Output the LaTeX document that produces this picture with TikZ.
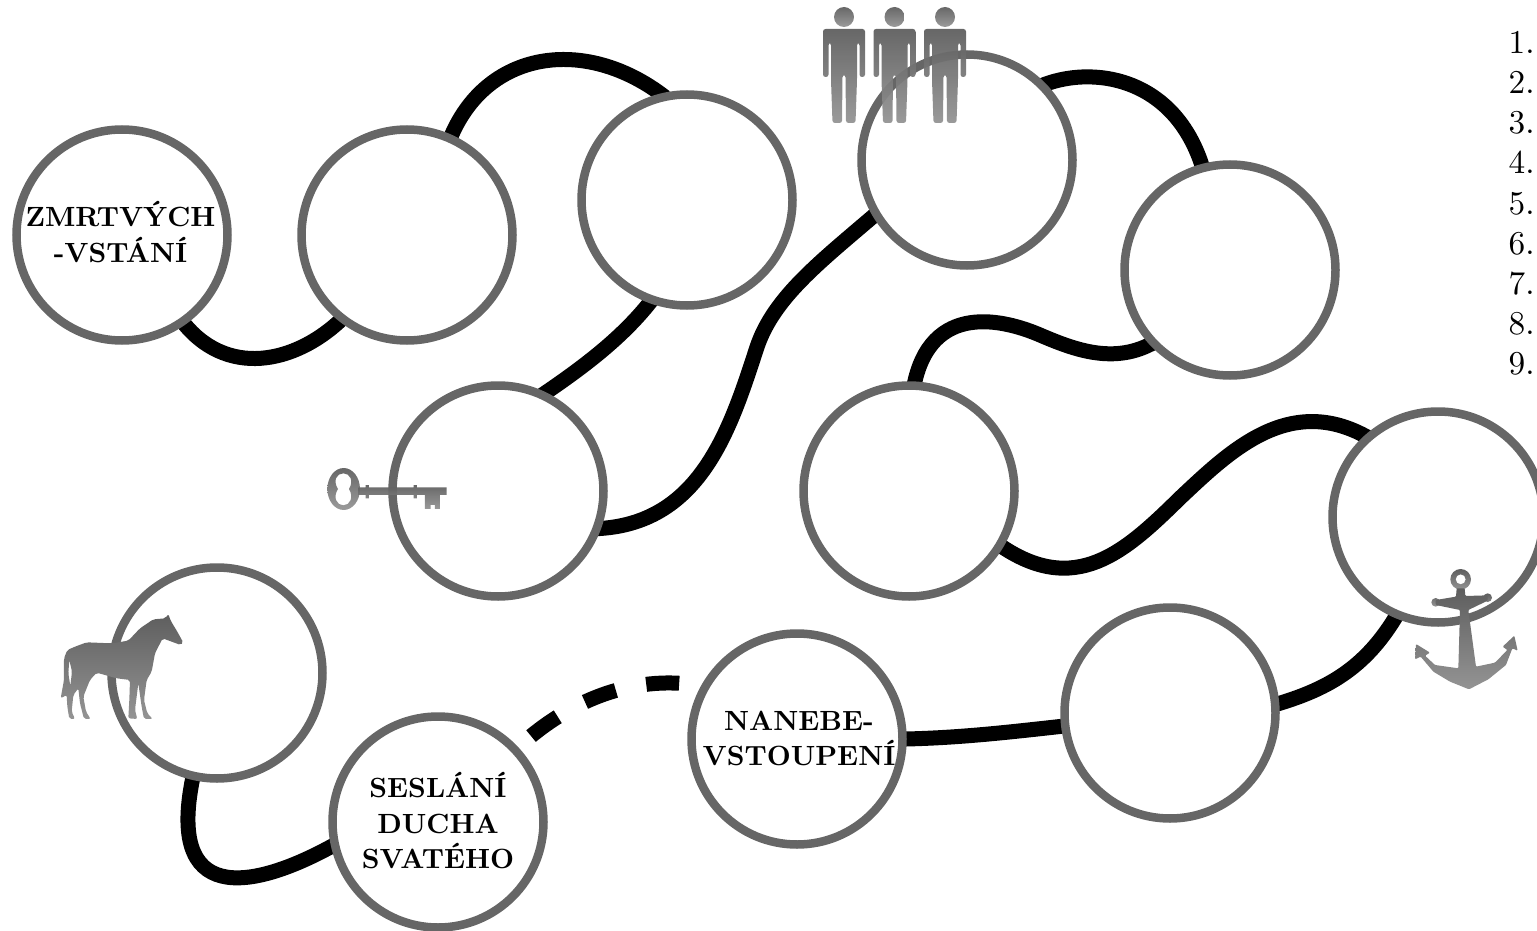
\documentclass[tikz,border=0pt]{standalone}
\usepackage{graphicx}
\pgfdeclarelayer{roads}
\pgfsetlayers{roads,main}
\definecolor{ringgray}{HTML}{666666}
\definecolor{icontop}{HTML}{5E5E5E}
\definecolor{iconbot}{HTML}{949494}
\newcommand{\stationtext}[1]{\scalebox{2.78}{\renewcommand{\arraystretch}{1.05}\bfseries\begin{tabular}{@{}c@{}}#1\end{tabular}}}
\tikzset{
  station/.style={circle,draw=ringgray,line width=8.5pt,fill=white,minimum size=211pt,inner sep=0pt,align=center},
  road/.style={draw=black,line width=15pt,shorten >=-6pt,shorten <=-6pt},
  icon/.style={top color=icontop,bottom color=iconbot,opacity=.94,draw=none},
  solidicon/.style={top color=icontop,bottom color=iconbot,draw=none},
  listnum/.style={anchor=base west,inner sep=0pt,scale=3.33},
  pics/person/.style={code={
    \shade[icon,rounded corners=2.5pt]
      (-21,29) -- (21,29) -- (21,77) -- (15.5,77) -- (15.5,43) -- (13,43) -- (13,80) -- (11.5,123) -- (2,123) -- (1.5,75) -- (-1.5,75) -- (-2,123) -- (-11.5,123) -- (-13,80) -- (-13,43) -- (-15.5,43) -- (-15.5,77) -- (-21,77) -- cycle;
    \shade[icon] (0,17) circle[radius=10];
  }}
}
\begin{document}
\begin{tikzpicture}[x=1pt,y=-1pt]
\useasboundingbox (0,0) rectangle (1537,931);
\coordinate (p1) at (757,347);
\coordinate (p2) at (1040,335);
\coordinate (p3) at (1180,498);
\node[station,label={[inner sep=0pt,xshift=-1.5pt,yshift=-2.5pt]center:\stationtext{ZMRTV\'YCH\\-VST\'AN\'I}}] (c1) at (122,235) {};
\node[station] (c2) at (407,235) {};
\node[station] (c3) at (687,200) {};
\node[station] (c4) at (498,491) {};
\node[station] (c5) at (967,160) {};
\node[station] (c6) at (1230,270) {};
\node[station] (c7) at (909,491) {};
\node[station] (c8) at (1438,517) {};
\node[station] (c9) at (1170,713) {};
\node[station,label={[inner sep=0pt,xshift=2pt,yshift=-2pt]center:\stationtext{NANEBE-\\VSTOUPEN\'I}}] (c10) at (797,739) {};
\node[station,label={[inner sep=0pt,yshift=-4pt]center:\stationtext{SESL\'AN\'I\\DUCHA\\SVAT\'EHO}}] (c11) at (438,822) {};
\node[station] (c12) at (217,673) {};
\begin{pgfonlayer}{roads}
\path[road] (c1.-55) .. controls (225,378) and (295,365) .. (c2.232);
\path[road] (c2.66) .. controls (485,50) and (585,35) .. (c3.104);
\path[road] (c3.250) .. controls (625,335) and (588,364) .. (c4.64);
\path[road] (c4.-20) .. controls (700,525) and (730,430) .. (p1) .. controls (774,297) and (820,262) .. (c5.211);
\path[road] (c5.44) .. controls (1090,65) and (1175,75) .. (c6.105);
\path[road] (c6.223) .. controls (1115,365) and (1075,350) .. (p2) .. controls (1005,320) and (930,300) .. (c7.87);
\path[road] (c7.-31) .. controls (1075,598) and (1125,552) .. (p3) .. controls (1230,451) and (1290,392) .. (c8.132);
\path[road] (c8.247) .. controls (1365,670) and (1325,690) .. (c9.5);
\path[road] (c9.187) .. controls (1010,732) and (960,738) .. (c10.0);
\path[road,shorten >=0pt,shorten <=0pt,dash pattern=on 33pt off 31pt,dash phase=42pt] (c10.151) .. controls (640,675) and (575,695) .. (c11.43);
\path[road] (c11.193) .. controls (250,892) and (165,905) .. (c12.257);
\end{pgfonlayer}
% icons
\pic at (844,0) {person};
\pic at (894.5,0) {person};
\pic at (945,0) {person};
\begin{scope}[shift={(40,600)},x=.3333pt,y=-.3333pt]
\shade[solidicon,even odd rule,rounded corners=2pt] (430,128) -- (422,135) -- (395,125) -- (368,115) -- (345,160) -- (335,215) -- (320,240) -- (312,300) -- (322,340) -- (338,357) -- (312,357) -- (305,320) -- (295,250) -- (285,330) -- (292,357) -- (265,355) -- (268,300) -- (270,240) -- (230,235) -- (170,218) -- (150,240) -- (130,290) -- (138,335) -- (152,357) -- (132,357) -- (120,310) -- (115,265) -- (100,285) -- (95,335) -- (105,357) -- (88,357) -- (82,320) -- (80,285) -- (62,295) -- (72,240) -- (72,175) -- (82,150) -- (105,140) -- (140,127) -- (215,130) -- (265,122) -- (300,85) -- (340,58) -- (376,55) -- (385,42) -- (392,62) -- (412,95) -- cycle
 (88,180) -- (96,215) -- (91,258) -- (85,220) -- cycle;
\end{scope}
\begin{scope}[shift={(1400,560)},x=.3333pt,y=-.3333pt]
\shade[solidicon,even odd rule] (182,58) circle[radius=31] (182,58) circle[radius=15];
\shade[solidicon] (107,127) circle[radius=13] (263,113) circle[radius=13];
\shade[solidicon,rounded corners=1pt] (170,85) -- (194,85) -- (196,108) -- (263,106) -- (263,122) -- (205,150) -- (228,320) -- (285,308) -- (322,270) -- (308,260) -- (343,227) -- (353,272) -- (337,265) -- (318,315) -- (265,358) -- (207,388) -- (150,365) -- (100,335) -- (62,290) -- (45,298) -- (48,252) -- (90,278) -- (75,287) -- (105,315) -- (175,325) -- (180,150) -- (107,135) -- (107,120) -- (168,110) -- cycle;
\end{scope}
\begin{scope}[shift={(320,460)},x=.3333pt,y=-.3333pt]
\shade[icon,even odd rule] (71,87) ellipse[x radius=49,y radius=63]
  (70,40) .. controls (90,40) and (102,62) .. (87,87) .. controls (102,112) and (90,136) .. (70,136) .. controls (50,136) and (38,112) .. (54,87) .. controls (38,62) and (50,40) .. (70,40) -- cycle;
\shade[icon] (115,82) -- (137,82) -- (137,75) -- (147,75) -- (147,82) -- (281,82) -- (281,75) -- (291,75) -- (291,82) -- (380,82) -- (380,105) -- (360,105) -- (360,147) -- (345,147) -- (345,135) -- (332,135) -- (332,147) -- (315,147) -- (315,105) -- (291,105) -- (291,115) -- (281,115) -- (281,105) -- (147,105) -- (147,115) -- (137,115) -- (137,105) -- (115,105) -- cycle;
\end{scope}
% list
\node[listnum] (n1) at (1508,54) {1.};
\node[listnum] (n2) at (1508,94) {2.};
\node[listnum] (n3) at (1508,134) {3.};
\node[listnum] (n4) at (1508,174) {4.};
\node[listnum] (n5) at (1508,214) {5.};
\node[listnum] (n6) at (1508,254) {6.};
\node[listnum] (n7) at (1508,294) {7.};
\node[listnum] (n8) at (1508,334) {8.};
\node[listnum] (n9) at (1508,374) {9.};
\end{tikzpicture}
\end{document}
